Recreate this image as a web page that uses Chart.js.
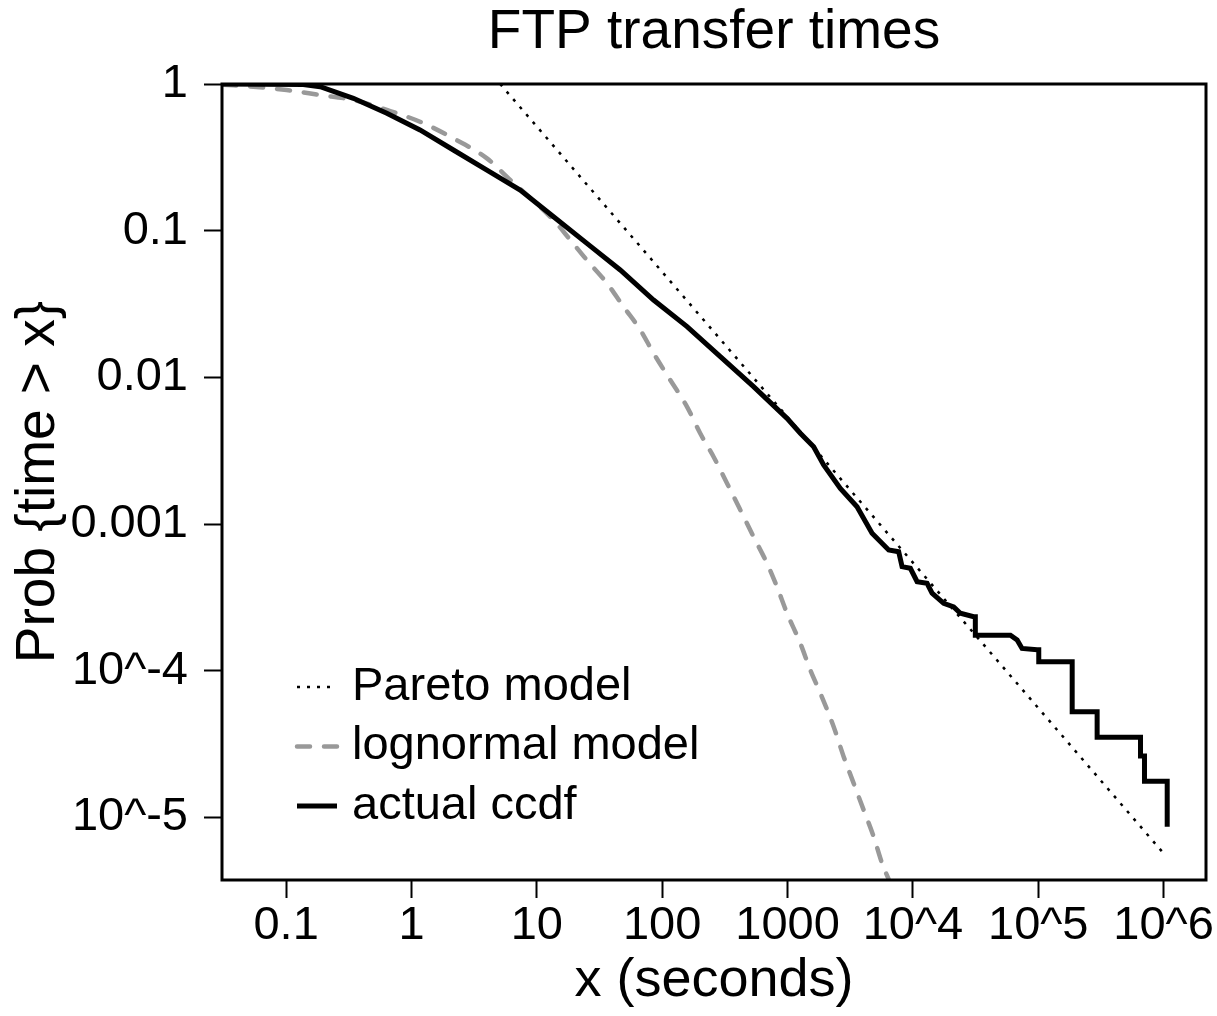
<!DOCTYPE html>
<html lang="en">
<head>
<meta charset="UTF-8" />
<title>FTP transfer times</title>
<script src="https://cdn.jsdelivr.net/npm/chart.js"></script>
<style>
  body { margin: 0; background: #fff; }
</style>
</head>
<body>
<canvas id="ftpChart" width="1217" height="1016"></canvas>
<script>
// axis ticks
const xTicks = [0.1, 1, 10, 100, 1000, 1e4, 1e5, 1e6];
const xTickLabels = ["0.1", "1", "10", "100", "1000", "10^4", "10^5", "10^6"];
const yTicks = [1, 0.1, 0.01, 0.001, 1e-4, 1e-5];
const yTickLabels = ["1", "0.1", "0.01", "0.001", "10^-4", "10^-5"];

// Pareto model (straight line in log-log)
const paretoX = [5.1, 1.0e6];
const paretoY = [1, 5.7e-6];

// lognormal model
const lognormX = [0.0315, 0.0548, 0.101, 0.187, 0.344, 0.636, 1.17, 2.16, 4.0, 6.13,
  13.6, 18.5, 25.1, 36.3, 49.2, 66.9, 85.4, 116, 158, 201, 257, 329, 420, 536, 686,
  824, 991, 1265, 1521, 1828, 2334, 2805, 3372, 4049, 4865, 5677, 6412];
const lognormY = [0.99, 0.958, 0.91, 0.841, 0.778, 0.665, 0.553, 0.426, 0.311, 0.222,
  0.118, 0.0865, 0.063, 0.0438, 0.0303, 0.0211, 0.0146, 0.0096, 0.0063, 0.00416, 0.00288,
  0.0019, 0.00125, 0.00082, 0.00054, 0.000374, 0.000247, 0.000154, 0.000101, 7.03e-5,
  4.16e-5, 2.6e-5, 1.71e-5, 1.125e-5, 7.4e-6, 4.87e-6, 3.79e-6];

// empirical ccdf (step corners kept in the tail)
const ccdfX = [0.031, 0.137, 0.187, 0.344, 0.636, 1.17, 2.16, 4.0, 7.37, 13.6, 25.1,
  46.3, 85.4, 158, 291, 536, 991, 1265, 1616, 1941, 2638, 3586, 4725, 6412, 7705, 8200,
  9550, 10810, 12980, 14230, 17620, 21170, 23930, 30550, 31500, 31500, 60000, 67900,
  74300, 98000, 101000, 101000, 186600, 186600, 295100, 295100, 654600, 654600, 704300,
  704300, 1069000, 1069000];
const ccdfY = [1, 0.992, 0.958, 0.799, 0.631, 0.486, 0.355, 0.259, 0.189, 0.1246, 0.082,
  0.054, 0.0337, 0.0222, 0.01384, 0.00865, 0.00526, 0.00416, 0.00337, 0.00253, 0.00175,
  0.001314, 0.000865, 0.000666, 0.000648, 0.000513, 0.0005, 0.000405, 0.000395, 0.000338,
  0.000288, 0.000273, 0.000247, 0.000234, 0.000234, 0.000175, 0.000175, 0.000162,
  0.000142, 0.000139, 0.000139, 0.0001153, 0.0001153, 5.26e-5, 5.26e-5, 3.52e-5, 3.52e-5,
  2.63e-5, 2.63e-5, 1.77e-5, 1.77e-5, 8.65e-6];

const FONT = '"Liberation Sans", Arial, Helvetica, sans-serif';

function pts(xs, ys) {
  return xs.map((x, i) => ({ x: x, y: ys[i] }));
}

// frame around the plot and the legend inside it
const boxAndLegend = {
  id: 'boxAndLegend',
  afterDatasetsDraw(chart) {
    const { ctx, chartArea: a } = chart;
    ctx.save();
    ctx.strokeStyle = '#000';
    ctx.lineWidth = 3;
    ctx.strokeRect(a.left, a.top, a.right - a.left, a.bottom - a.top);

    ctx.font = '47px ' + FONT;
    ctx.textBaseline = 'middle';
    chart.data.datasets.forEach((ds, i) => {
      const y = a.top + 603 + i * 59.5;
      ctx.beginPath();
      ctx.setLineDash(ds.borderDash || []);
      ctx.lineWidth = ds.borderWidth;
      ctx.strokeStyle = ds.borderColor;
      ctx.lineCap = ds.borderCapStyle || 'butt';
      ctx.moveTo(a.left + 75, y);
      ctx.lineTo(a.left + 115, y);
      ctx.stroke();
      ctx.setLineDash([]);
      ctx.fillStyle = '#000';
      ctx.fillText(ds.label, a.left + 130, y);
    });
    ctx.restore();
  }
};

const ctx = document.getElementById('ftpChart').getContext('2d');
new Chart(ctx, {
  type: 'scatter',
  data: {
    datasets: [
      {
        label: 'Pareto model',
        data: pts(paretoX, paretoY),
        showLine: true,
        borderColor: '#000',
        borderWidth: 2.5,
        borderDash: [3, 7],
        pointRadius: 0,
        order: 1
      },
      {
        label: 'lognormal model',
        data: pts(lognormX, lognormY),
        showLine: true,
        borderColor: '#999999',
        borderWidth: 4.5,
        borderDash: [13, 14],
        borderCapStyle: 'round',
        cubicInterpolationMode: 'monotone',
        pointRadius: 0,
        order: 2
      },
      {
        label: 'actual ccdf',
        data: pts(ccdfX, ccdfY),
        showLine: true,
        borderColor: '#000',
        borderWidth: 5,
        pointRadius: 0,
        order: 0
      }
    ]
  },
  options: {
    responsive: false,
    animation: false,
    layout: { padding: { left: 0, top: 0, right: 11, bottom: 0 } },
    plugins: {
      legend: { display: false },
      tooltip: { enabled: false },
      title: {
        display: true,
        text: 'FTP transfer times',
        fullSize: false,
        color: '#000',
        font: { family: FONT, size: 55, weight: 'normal', lineHeight: 1.2 },
        padding: { top: 0, bottom: 18 }
      }
    },
    scales: {
      x: {
        type: 'logarithmic',
        position: 'bottom',
        min: 0.0308,
        max: 2.18e6,
        afterBuildTicks: s => { s.ticks = xTicks.map(v => ({ value: v })); },
        afterFit: s => { s.height = 136; },
        ticks: {
          autoSkip: false,
          maxRotation: 0,
          minRotation: 0,
          padding: 0,
          color: '#000',
          font: { family: FONT, size: 47 },
          callback: (v, i) => xTickLabels[i]
        },
        grid: {
          display: true,
          drawOnChartArea: false,
          drawTicks: true,
          tickLength: 18,
          tickWidth: 2,
          tickColor: '#000'
        },
        border: { display: false },
        title: {
          display: true,
          text: 'x (seconds)',
          color: '#000',
          font: { family: FONT, size: 54, lineHeight: 1 },
          padding: { top: 0, bottom: 8 }
        }
      },
      y: {
        type: 'logarithmic',
        position: 'left',
        min: 3.75e-6,
        max: 1,
        afterBuildTicks: s => { s.ticks = yTicks.map(v => ({ value: v })); },
        afterFit: s => { s.width = 222; },
        ticks: {
          autoSkip: false,
          padding: 16,
          color: '#000',
          font: { family: FONT, size: 47 },
          callback: (v, i) => yTickLabels[i]
        },
        grid: {
          display: true,
          drawOnChartArea: false,
          drawTicks: true,
          tickLength: 18,
          tickWidth: 2,
          tickColor: '#000'
        },
        border: { display: false },
        title: {
          display: true,
          text: 'Prob {time > x}',
          color: '#000',
          font: { family: FONT, size: 55, lineHeight: 1 },
          padding: { top: 11, bottom: 0 }
        }
      }
    }
  },
  plugins: [boxAndLegend]
});
</script>
</body>
</html>
